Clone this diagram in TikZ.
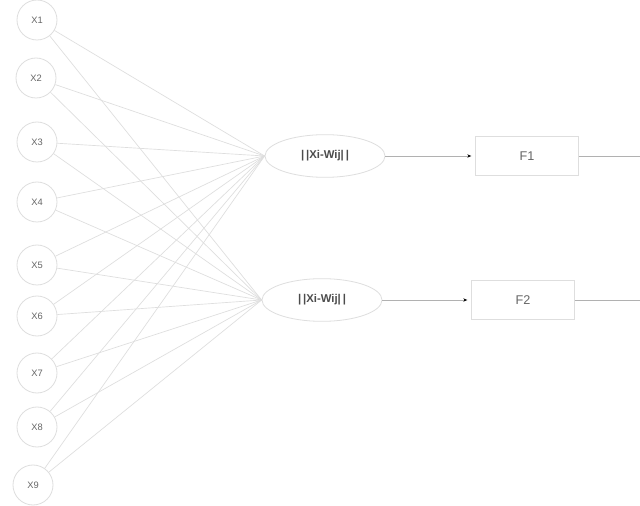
\documentclass[tikz,border=0pt]{standalone}
\usepackage{fontspec}
\setmainfont{Liberation Sans}
\usetikzlibrary{shapes.geometric,arrows.meta}
\definecolor{lg}{gray}{0.87}
\definecolor{tx}{gray}{0.4}
\tikzset{
  xnode/.style={circle,draw=lg,line width=0.6pt,minimum size=30pt,inner sep=0pt,text=tx,font=\fontsize{7}{8}\selectfont},
  enode/.style={ellipse,draw=lg,line width=0.6pt,minimum width=90pt,minimum height=32pt,inner sep=0pt,text=black!70,font=\fontsize{8.5}{9}\selectfont\bfseries},
  fnode/.style={rectangle,draw=lg,line width=0.6pt,minimum width=77pt,minimum height=29pt,inner sep=0pt,text=tx,font=\fontsize{9.5}{10}\selectfont},
  conn/.style={draw=lg,line width=0.5pt},
  arr/.style={draw=lg!80!black,line width=0.5pt,-{Stealth[length=3pt,width=2.5pt,black]}, shorten >=3pt},
}
\begin{document}
\begin{tikzpicture}[x=0.75pt,y=-0.75pt]
\useasboundingbox[fill=white] (0,0) rectangle (640,506);
\node[xnode] (x1) at (37,20) {X1};
\node[xnode] (x2) at (36,78) {X2};
\node[xnode] (x3) at (37,142) {X3};
\node[xnode] (x4) at (37,202) {X4};
\node[xnode] (x5) at (37,265) {X5};
\node[xnode] (x6) at (37,316) {X6};
\node[xnode] (x7) at (37,373) {X7};
\node[xnode] (x8) at (37,427) {X8};
\node[xnode] (x9) at (33,485) {X9};
\node[enode] (e1) at (325,156) {|\,|Xi-Wij|\,|};
\node[enode] (e2) at (322,300) {|\,|Xi-Wij|\,|};
\node[fnode] (f1) at (527,156) {F1};
\node[fnode] (f2) at (523,300) {F2};
\coordinate (o1) at (640,156);
\coordinate (o2) at (640,300);
\foreach \i in {1,...,9}{
  \draw[conn] (x\i) -- (e1.west);
  \draw[conn] (x\i) -- (e2.west);
}
\draw[arr] (e1.east) -- (f1.west);
\draw[arr] (e2.east) -- (f2.west);
\draw[conn,draw=lg!80!black] (f1.east) -- (o1);
\draw[conn,draw=lg!80!black] (f2.east) -- (o2);
\end{tikzpicture}
\end{document}
